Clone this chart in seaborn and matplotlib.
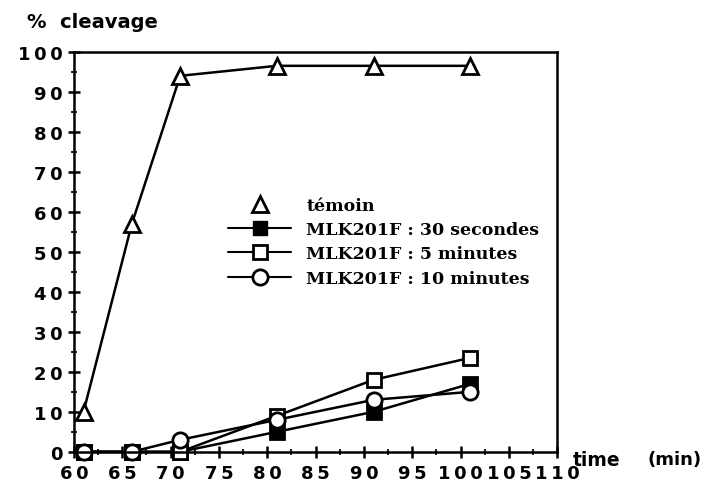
import numpy as np
import pandas as pd
import matplotlib
matplotlib.use("Agg")
import matplotlib.pyplot as plt
import seaborn as sns
from matplotlib.lines import Line2D
from matplotlib.ticker import MultipleLocator, FixedLocator, FixedFormatter

# values
time = [61, 66, 71, 81, 91, 101]
temoin = [10, 57, 94, 96.5, 96.5, 96.5]
s30 = [0, 0, 0, 5, 10, 17]
m5 = [0, 0, 0, 9, 18, 23.5]
m10 = [0, 0, 3, 8, 13, 15]

labels = ["témoin", "MLK201F : 30 secondes", "MLK201F : 5 minutes", "MLK201F : 10 minutes"]
xticks = list(range(60, 111, 5))
yticks = list(range(0, 101, 10))

sns.set_style("white")
plt.rcParams['font.family'] = ['DejaVu Sans']
plt.rcParams['text.color'] = 'black'

fig = plt.figure(figsize=(7.1, 4.89), dpi=100)
ax = fig.add_axes([0.104, 0.074, 0.681, 0.818])

df = pd.DataFrame({"time": time, "temoin": temoin, "s30": s30, "m5": m5, "m10": m10})

styles = {
    "temoin": dict(marker="^", markersize=12, markerfacecolor="white"),
    "s30": dict(marker="s", markersize=10, markerfacecolor="black"),
    "m5": dict(marker="s", markersize=10, markerfacecolor="white"),
    "m10": dict(marker="o", markersize=11, markerfacecolor="white"),
}
for col in ["s30", "m5", "m10", "temoin"]:
    sns.lineplot(data=df, x="time", y=col, ax=ax, color="black", linewidth=1.8,
                 markeredgecolor="black", markeredgewidth=2, clip_on=False, **styles[col])

ax.set_xlim(60, 110)
ax.set_ylim(0, 100)
ax.set_xlabel("")
ax.set_ylabel("")

sp = "\u2009"
ax.xaxis.set_major_locator(FixedLocator(xticks))
ax.xaxis.set_major_formatter(FixedFormatter([sp.join(str(v)) for v in xticks]))
ax.xaxis.set_minor_locator(MultipleLocator(2.5))
ax.yaxis.set_major_locator(FixedLocator(yticks))
ax.yaxis.set_major_formatter(FixedFormatter([sp.join(str(v)) for v in yticks]))
ax.yaxis.set_minor_locator(MultipleLocator(5))

ax.tick_params(axis="both", which="major", direction="inout", length=8, width=1.8,
               labelsize=13, colors="black")
ax.tick_params(axis="x", which="major", pad=5)
ax.tick_params(axis="y", which="major", pad=4)
ax.tick_params(axis="both", which="minor", direction="inout", length=5, width=1.5)
ax.tick_params(axis="x", which="both", bottom=True)
ax.tick_params(axis="y", which="both", left=True)
for lab in ax.get_xticklabels() + ax.get_yticklabels():
    lab.set_fontweight("bold")
for s in ax.spines.values():
    s.set_color("black")
    s.set_linewidth(1.8)

fig.text(0.038, 0.955, "%  cleavage", fontsize=14, fontweight="bold", ha="left", va="center")
fig.text(0.807, 0.059, "time", fontsize=13.5, fontweight="bold", ha="left", va="center")
fig.text(0.912, 0.059, "(min)", fontsize=13, fontweight="bold", ha="left", va="center")

handles = [
    Line2D([], [], linestyle="none", marker="^", markersize=12, markerfacecolor="white",
           markeredgecolor="black", markeredgewidth=2),
    Line2D([], [], color="black", linewidth=1.5, marker="s", markersize=10,
           markerfacecolor="black", markeredgecolor="black"),
    Line2D([], [], color="black", linewidth=1.5, marker="s", markersize=10,
           markerfacecolor="white", markeredgecolor="black", markeredgewidth=2),
    Line2D([], [], color="black", linewidth=1.5, marker="o", markersize=11,
           markerfacecolor="white", markeredgecolor="black", markeredgewidth=2),
]
ax.legend(handles, labels, loc="upper left", bbox_to_anchor=(0.305, 0.655), frameon=False,
          prop={"family": "DejaVu Serif", "weight": "bold", "size": 12.5},
          handlelength=3.6, labelspacing=0.42, handletextpad=0.9, borderaxespad=0)

fig.savefig("out.png", dpi=100)
